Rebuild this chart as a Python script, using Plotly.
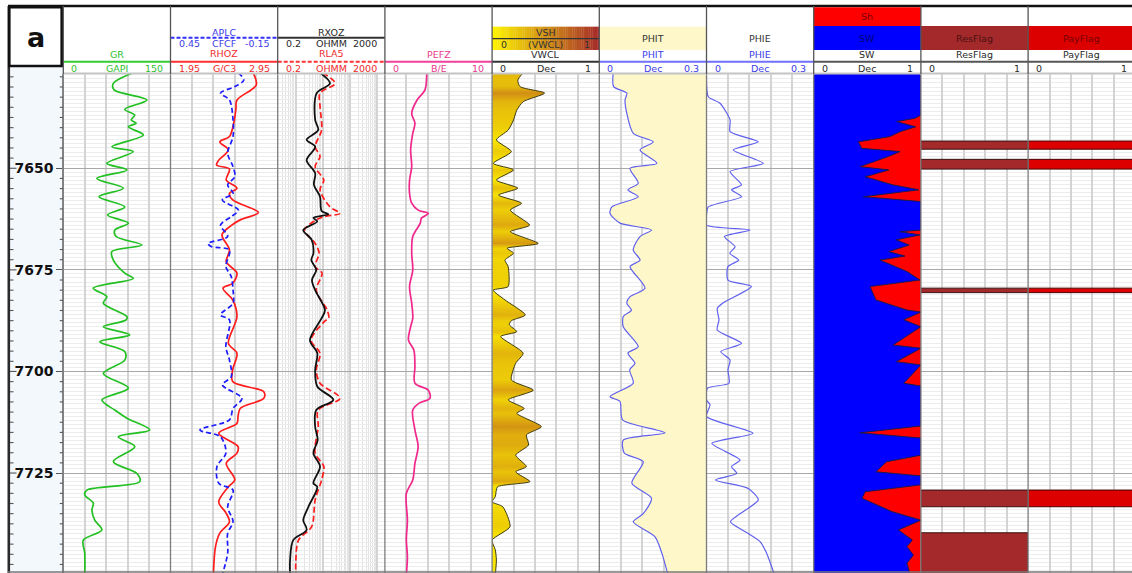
import math
import plotly.graph_objects as go

# ---------------- data ----------------
GR_DEPTH = [7626.5, 7629.1, 7630.7, 7633.2, 7635.5, 7636.9, 7638.1, 7638.9, 7639.8, 7641.8,
            7644.7, 7645.9, 7648.8, 7650.4, 7652.5, 7654.9, 7657.0, 7659.5, 7661.5, 7663.5,
            7665.2, 7666.8, 7668.9, 7670.5, 7672.6, 7675.8, 7677.1, 7679.5, 7681.6, 7683.2,
            7686.5, 7687.3, 7689.0, 7691.0, 7692.7, 7695.1, 7697.2, 7700.5, 7704.1, 7707.0,
            7709.5, 7711.5, 7714.4, 7716.1, 7718.5, 7722.2, 7725.1, 7727.1, 7729.2, 7730.4,
            7732.4, 7734.1, 7736.6, 7739.0, 7741.5, 7744.7, 7750.0]
GR = [98, 70, 71, 117, 86, 100, 95, 102, 91, 112,
      68, 98, 61, 89, 47, 84, 50, 86, 62, 91,
      72, 74, 110, 68, 70, 86, 98, 42, 61, 56,
      89, 88, 56, 93, 51, 86, 86, 56, 91, 54,
      72, 89, 121, 77, 100, 70, 103, 107, 33, 30,
      42, 40, 44, 54, 28, 30, 30]

RHOZ_DEPTH = [7626.5, 7629.5, 7633.2, 7635.5, 7638.9, 7642.2, 7643.5, 7645.5, 7648.0, 7649.2,
              7650.2, 7652.9, 7654.9, 7656.2, 7657.8, 7660.9, 7662.7, 7664.4, 7666.4, 7670.1,
              7673.0, 7675.8, 7678.3, 7679.5, 7682.4, 7686.5, 7693.1, 7695.5, 7699.6, 7702.5,
              7705.0, 7706.6, 7709.1, 7711.1, 7712.8, 7715.2, 7718.5, 7720.1, 7722.6, 7726.7,
              7728.4, 7732.1, 7734.9, 7737.0, 7739.8, 7743.1, 7750.0]
RHOZ = [2.72, 2.75, 2.57, 2.56, 2.54, 2.50, 2.41, 2.49, 2.40, 2.38,
        2.50, 2.47, 2.57, 2.50, 2.53, 2.77, 2.60, 2.50, 2.43, 2.50,
        2.47, 2.57, 2.53, 2.44, 2.53, 2.57, 2.49, 2.57, 2.53, 2.53,
        2.82, 2.82, 2.60, 2.58, 2.57, 2.40, 2.58, 2.57, 2.47, 2.55,
        2.49, 2.40, 2.47, 2.50, 2.41, 2.37, 2.35]

APLC_DEPTH = [7626.5, 7628.3, 7629.9, 7631.5, 7633.2, 7638.1, 7642.2, 7646.3, 7649.6, 7652.1,
              7654.1, 7656.2, 7657.8, 7660.3, 7661.9, 7664.0, 7666.8, 7668.5, 7669.3, 7670.1,
              7674.2, 7676.7, 7680.0, 7683.2, 7686.1, 7687.3, 7693.9, 7697.2, 7701.3, 7703.3,
              7706.6, 7709.1, 7711.9, 7714.4, 7716.1, 7720.1, 7723.4, 7727.5, 7729.2, 7733.3,
              7737.0, 7739.8, 7744.7, 7750.0]
APLC = [0.07, 0.04, 0.09, 0.17, 0.12, 0.10, 0.10, 0.13, 0.10, 0.09,
        0.13, 0.10, 0.16, 0.07, 0.11, 0.17, 0.13, 0.24, 0.22, 0.12,
        0.14, 0.11, 0.10, 0.10, 0.17, 0.12, 0.14, 0.12, 0.11, 0.16,
        0.05, 0.10, 0.12, 0.285, 0.17, 0.14, 0.19, 0.18, 0.10, 0.13,
        0.10, 0.13, 0.13, 0.16]

RXOZ_DEPTH = [7626.5, 7629.1, 7631.5, 7638.1, 7640.6, 7643.0, 7644.7, 7648.0, 7651.2, 7654.1,
              7657.0, 7660.5, 7661.3, 7662.2, 7663.1, 7665.2, 7667.6, 7670.9, 7672.6, 7675.0,
              7677.5, 7680.0, 7684.9, 7686.9, 7692.3, 7695.5, 7699.6, 7703.7, 7707.0, 7709.5,
              7713.6, 7716.9, 7720.1, 7723.4, 7727.5, 7728.4, 7733.3, 7736.6, 7739.0, 7741.5,
              7746.4, 7750.0]
RXOZ = [7.6, 17.8, 5.7, 5.0, 6.5, 2.4, 5.0, 2.4, 5.0, 4.5,
        7.6, 8.7, 15.5, 4.3, 6.0, 1.8, 3.7, 4.3, 3.6, 5.5,
        3.8, 5.0, 11.6, 8.7, 3.2, 6.0, 5.0, 6.0, 23.8, 5.5,
        5.0, 6.2, 4.3, 7.6, 4.3, 6.0, 2.8, 1.8, 2.4, 0.76,
        0.58, 0.58]

RLA5_DEPTH = [7626.5, 7629.1, 7631.5, 7634.8, 7640.6, 7644.7, 7647.1, 7649.6, 7652.9, 7655.3,
              7659.5, 7661.1, 7661.9, 7662.7, 7665.2, 7668.5, 7670.9, 7674.2, 7675.8, 7680.0,
              7684.9, 7686.9, 7687.5, 7692.3, 7695.5, 7699.6, 7702.9, 7706.6, 7709.5, 7713.6,
              7720.1, 7723.4, 7726.7, 7731.6, 7738.2, 7741.5, 7746.4, 7750.0]
RLA5 = [9.5, 27.6, 7.6, 7.6, 8.7, 5.0, 7.6, 5.0, 10.5, 7.6,
        17.8, 42.0, 10.5, 5.5, 2.0, 5.0, 7.0, 5.0, 9.0, 5.5,
        14.0, 16.0, 12.0, 3.5, 7.6, 5.5, 7.6, 42.0, 6.5, 6.5,
        5.0, 10.5, 8.7, 5.0, 3.7, 1.2, 0.95, 0.95]

PEFZ_DEPTH = [7626.5, 7630.7, 7633.2, 7636.5, 7638.9, 7641.4, 7645.5, 7649.6, 7652.9, 7656.2,
              7658.6, 7660.3, 7661.1, 7662.3, 7663.5, 7666.8, 7670.9, 7675.0, 7679.1, 7683.2,
              7686.9, 7689.0, 7692.3, 7694.7, 7698.8, 7702.9, 7704.6, 7706.6, 7707.8, 7709.5,
              7714.4, 7718.5, 7722.6, 7726.7, 7730.0, 7736.6, 7741.5, 7745.6, 7750.0]
PEFZ = [3.9, 3.74, 3.0, 2.5, 2.8, 2.6, 2.4, 2.5, 2.3, 2.3,
        2.5, 3.1, 4.05, 3.4, 3.3, 2.6, 2.5, 2.6, 2.3, 2.5,
        2.6, 2.4, 2.2, 2.7, 2.8, 2.8, 4.05, 4.2, 3.2, 2.6,
        2.8, 3.1, 2.8, 2.6, 2.0, 2.1, 2.0, 2.1, 2.0]

VWCL_DEPTH = [7626.5, 7628.3, 7629.9, 7631.5, 7633.6, 7635.7, 7638.1, 7640.6, 7643.0, 7645.9,
              7648.8, 7650.4, 7652.9, 7654.9, 7656.6, 7658.6, 7660.3, 7664.0, 7665.6, 7668.5,
              7669.7, 7670.9, 7672.6, 7674.2, 7679.1, 7680.0, 7682.4, 7686.1, 7687.5, 7688.5,
              7690.2, 7691.4, 7695.5, 7698.0, 7702.1, 7704.6, 7707.0, 7709.1, 7710.3, 7713.6,
              7715.6, 7718.1, 7720.6, 7723.4, 7724.7, 7727.1, 7728.4, 7730.8, 7732.1, 7733.3,
              7738.2, 7741.5, 7743.9, 7746.4, 7750.0]
VWCL = [0.29, 0.24, 0.26, 0.49, 0.29, 0.23, 0.20, 0.15, 0.04, 0.18,
        0.01, 0.20, 0.04, 0.24, 0.06, 0.275, 0.17, 0.35, 0.17, 0.43,
        0.14, 0.20, 0.12, 0.15, 0.15, 0.01, 0.12, 0.31, 0.18, 0.16,
        0.23, 0.08, 0.29, 0.22, 0.18, 0.385, 0.15, 0.30, 0.23, 0.46,
        0.32, 0.34, 0.22, 0.32, 0.22, 0.353, 0.05, 0.03, 0.0, 0.10,
        0.167, 0.0, 0.03, 0.04, 0.03]

PHIT_DEPTH = [7626.5, 7629.9, 7631.5, 7633.2, 7636.5, 7641.4, 7643.5, 7645.5, 7648.8, 7650.0,
              7653.7, 7655.3, 7657.0, 7659.5, 7661.1, 7663.5, 7665.2, 7666.8, 7670.1, 7672.6,
              7674.2, 7679.5, 7681.6, 7683.2, 7684.9, 7686.5, 7689.0, 7693.9, 7695.5, 7698.0,
              7699.6, 7702.9, 7706.2, 7707.4, 7711.9, 7715.1, 7716.9, 7720.1, 7722.2, 7727.5,
              7731.2, 7735.0, 7737.0, 7740.7, 7744.7, 7750.0]
PHIT = [0.039, 0.040, 0.077, 0.072, 0.077, 0.095, 0.151, 0.114, 0.161, 0.086,
        0.109, 0.080, 0.109, 0.035, 0.030, 0.058, 0.146, 0.114, 0.095, 0.114,
        0.086, 0.128, 0.086, 0.077, 0.090, 0.067, 0.067, 0.109, 0.080, 0.100,
        0.085, 0.095, 0.030, 0.058, 0.065, 0.184, 0.067, 0.070, 0.123, 0.091,
        0.146, 0.123, 0.095, 0.156, 0.175, 0.192]

PHIE_DEPTH = [7626.5, 7632.4, 7634.0, 7638.1, 7641.0, 7643.5, 7645.5, 7648.8, 7650.8, 7654.1,
              7655.3, 7657.0, 7659.5, 7661.5, 7664.0, 7665.2, 7666.8, 7669.3, 7670.9, 7672.6,
              7674.2, 7677.5, 7679.1, 7683.2, 7684.5, 7687.3, 7689.8, 7693.1, 7695.1, 7697.2,
              7699.6, 7702.9, 7704.1, 7707.0, 7708.2, 7711.1, 7715.2, 7717.7, 7721.8, 7723.4,
              7725.1, 7726.7, 7728.8, 7731.6, 7737.0, 7739.0, 7741.9, 7744.7, 7750.0]
PHIE = [0.0, 0.005, 0.038, 0.066, 0.066, 0.145, 0.075, 0.159, 0.066, 0.098,
        0.070, 0.098, 0.005, 0.0, 0.0, 0.122, 0.050, 0.080, 0.065, 0.090,
        0.060, 0.060, 0.126, 0.045, 0.030, 0.035, 0.030, 0.098, 0.040, 0.066,
        0.060, 0.063, 0.003, 0.0, 0.010, 0.0, 0.130, 0.015, 0.094, 0.070,
        0.085, 0.025, 0.117, 0.145, 0.067, 0.100, 0.150, 0.168, 0.190]

SW_DEPTH = [7626.5, 7636.9, 7637.7, 7638.5, 7639.8, 7641.0, 7642.2, 7643.5, 7645.1, 7645.9,
            7647.1, 7649.6, 7650.4, 7652.1, 7654.1, 7655.3, 7657.0, 7658.2, 7665.2, 7665.6,
            7666.4, 7667.6, 7668.9, 7670.5, 7671.6, 7672.6, 7675.4, 7677.5, 7679.1, 7682.4,
            7684.9, 7685.4, 7686.9, 7687.3, 7689.0, 7693.5, 7694.3, 7697.6, 7698.4, 7702.9,
            7703.6, 7713.4, 7715.1, 7716.4, 7720.6, 7722.2, 7724.7, 7725.7, 7727.9, 7729.6,
            7731.2, 7734.5, 7736.6, 7739.0, 7741.5, 7743.1, 7745.2, 7747.2, 7750.0]
SW = [1.0, 1.0, 0.945, 0.774, 0.95, 0.805, 0.71, 0.416, 0.448, 0.805,
      0.696, 0.432, 0.70, 0.48, 0.74, 0.98, 0.463, 1.0, 1.0, 0.805,
      0.99, 0.77, 0.89, 0.70, 0.85, 0.618, 0.87, 0.99, 0.525, 0.58,
      0.87, 1.0, 0.87, 0.84, 1.0, 0.74, 1.0, 0.77, 1.0, 0.84,
      1.0, 1.0, 0.43, 1.0, 1.0, 0.68, 0.58, 1.0, 1.0, 0.48,
      0.45, 0.73, 1.0, 0.79, 0.92, 0.87, 0.93, 0.87, 0.90]

RES_TOP = [7643.3, 7647.8, 7679.5, 7729.2, 7739.7]
RES_BASE = [7645.3, 7650.2, 7680.6, 7733.3, 7750.0]
PAY_TOP = [7643.3, 7647.8, 7679.5, 7729.2]
PAY_BASE = [7645.3, 7650.2, 7680.6, 7733.3]

DEPTH_LABELS = [7650, 7675, 7700, 7725]

for a, b in [(GR_DEPTH, GR), (RHOZ_DEPTH, RHOZ), (APLC_DEPTH, APLC), (RXOZ_DEPTH, RXOZ),
             (RLA5_DEPTH, RLA5), (PEFZ_DEPTH, PEFZ), (VWCL_DEPTH, VWCL), (PHIT_DEPTH, PHIT),
             (PHIE_DEPTH, PHIE), (SW_DEPTH, SW)]:
    assert len(a) == len(b), (len(a), len(b))

# ---------------- geometry / style ----------------
W, H = 1132, 573
HDR_TOP = 6.0
DATA_TOP = 74.0
TRACK_X0 = 63.3
TRACK_W = 107.2
NT = 10
D_TOP, D_BOT = 7626.8, 7749.6
FONT = "DejaVu Sans"

GREEN = "#2fbf2f"
RED = "#ee2a2a"
BLUE = "#3c3ce8"
PINK = "#ea3a8e"
DARK = "#2a2a2a"
GRID = "#d4d4d4"

edges = [TRACK_X0 + i * TRACK_W for i in range(NT + 1)]


def fx(p):
    return p / W


def fy(p):
    return 1 - p / H


shapes = []
annotations = []


def hline(x0, x1, y, color, width=1.0, dash=None):
    shapes.append(dict(type="line", xref="paper", yref="paper", x0=fx(x0), x1=fx(x1),
                       y0=fy(y), y1=fy(y), layer="above",
                       line=dict(color=color, width=width, dash=dash or "solid")))


def vline(x, y0, y1, color, width=1.0):
    shapes.append(dict(type="line", xref="paper", yref="paper", x0=fx(x), x1=fx(x),
                       y0=fy(y0), y1=fy(y1), layer="above",
                       line=dict(color=color, width=width)))


def rect(x0, y0, x1, y1, fill, lc=None, lw=0, layer="above"):
    shapes.append(dict(type="rect", xref="paper", yref="paper", x0=fx(x0), x1=fx(x1),
                       y0=fy(y1), y1=fy(y0), layer=layer, fillcolor=fill,
                       line=dict(color=lc or fill, width=lw)))


def text(x, y, s, color, size=9.5, anchor="center", bold=False):
    annotations.append(dict(x=fx(x), y=fy(y), xref="paper", yref="paper", text=s,
                            showarrow=False, xanchor=anchor, yanchor="middle",
                            font=dict(family=FONT, size=size, color=color,
                                      weight="bold" if bold else "normal")))


def lerp_color(v, c0=(252, 238, 0), c1=(165, 42, 42)):
    v = max(0.0, min(1.0, v))
    r, g, b = (round(c0[k] + (c1[k] - c0[k]) * v) for k in range(3))
    return f"rgb({r},{g},{b})"


# ---------------- axes ----------------
layout_axes = {}


def make_xaxis(key, i, lo, hi, log=False, grid=True, overlay=None):
    x0 = edges[i]
    x1 = min(edges[i + 1], W)
    frac = (x1 - x0) / TRACK_W
    if log:
        a, b = math.log10(lo), math.log10(hi)
        ax = dict(type="log", range=[a, a + (b - a) * frac], dtick=1,
                  minor=dict(dtick="D1", showgrid=True, gridcolor="#e3e3e3", gridwidth=1))
    else:
        ax = dict(range=[lo, lo + (hi - lo) * frac], tick0=lo, dtick=(hi - lo) / 5)
    ax.update(domain=[fx(x0), fx(x1)], anchor="y", showticklabels=False, ticks="",
              zeroline=False, showline=False, showgrid=grid, gridcolor=GRID,
              gridwidth=1.6, fixedrange=True)
    if overlay:
        ax["overlaying"] = overlay
    layout_axes["xaxis" + key[1:]] = ax


make_xaxis("x", 0, 0, 150)
make_xaxis("x2", 1, 1.95, 2.95)
make_xaxis("x3", 1, 0.45, -0.15, grid=False, overlay="x2")
make_xaxis("x4", 2, 0.2, 2000, log=True)
make_xaxis("x5", 3, 0, 10)
make_xaxis("x6", 4, 0, 1)
make_xaxis("x7", 5, 0, 0.3)
make_xaxis("x8", 6, 0, 0.3)
make_xaxis("x9", 7, 0, 1)
make_xaxis("x10", 8, 0, 1)
make_xaxis("x11", 9, 0, 1)

layout_axes["yaxis"] = dict(
    domain=[0, fy(DATA_TOP)], range=[D_BOT, D_TOP], anchor="x",
    tickmode="array", tickvals=DEPTH_LABELS, ticktext=[str(v) for v in DEPTH_LABELS],
    ticks="outside", ticklen=6, tickwidth=1.2, tickcolor="#555",
    tickfont=dict(family=FONT, size=14, color="#111", weight="bold"),
    showgrid=True, gridcolor="#a8a8a8", gridwidth=1.2,
    minor=dict(dtick=1, tick0=7600, showgrid=True, gridcolor="#ececec", gridwidth=1),
    zeroline=False, showline=True, linecolor="#888", fixedrange=True)

# ---------------- traces ----------------
traces = []
SMOOTH = dict(shape="spline", smoothing=0.9)

traces.append(go.Scatter(x=GR, y=GR_DEPTH, xaxis="x", yaxis="y", mode="lines",
                         line=dict(color="#22c022", width=1.7, **SMOOTH)))
traces.append(go.Scatter(x=RHOZ, y=RHOZ_DEPTH, xaxis="x2", yaxis="y", mode="lines",
                         line=dict(color="#ff1c1c", width=1.7, **SMOOTH)))
traces.append(go.Scatter(x=APLC, y=APLC_DEPTH, xaxis="x3", yaxis="y", mode="lines",
                         line=dict(color="#1c1cff", width=1.7, dash="5px,3px", **SMOOTH)))
traces.append(go.Scatter(x=RLA5, y=RLA5_DEPTH, xaxis="x4", yaxis="y", mode="lines",
                         line=dict(color="#ff1c1c", width=1.7, dash="6px,3px", **SMOOTH)))
traces.append(go.Scatter(x=RXOZ, y=RXOZ_DEPTH, xaxis="x4", yaxis="y", mode="lines",
                         line=dict(color="#111111", width=1.8, **SMOOTH)))
traces.append(go.Scatter(x=PEFZ, y=PEFZ_DEPTH, xaxis="x5", yaxis="y", mode="lines",
                         line=dict(color="#f0288c", width=1.7, **SMOOTH)))

# VSH / VWCL shading: colour of each depth band follows the VWCL value
span = VWCL_DEPTH[-1] - VWCL_DEPTH[0]
vsh_scale = [[(d - VWCL_DEPTH[0]) / span, lerp_color(v)] for d, v in zip(VWCL_DEPTH, VWCL)]
vsh_scale[0][0] = 0.0
vsh_scale[-1][0] = 1.0
traces.append(go.Scatter(x=VWCL, y=VWCL_DEPTH, xaxis="x6", yaxis="y", mode="lines",
                         fill="tozerox",
                         fillgradient=dict(type="vertical", colorscale=vsh_scale,
                                           start=VWCL_DEPTH[0], stop=VWCL_DEPTH[-1]),
                         line=dict(color="#3d3a12", width=1, shape="spline", smoothing=0.6)))

# PHIT with light yellow fill to the right edge
PHIT_MAX = 0.3
traces.append(go.Scatter(x=[PHIT_MAX] * len(PHIT_DEPTH), y=PHIT_DEPTH, xaxis="x7", yaxis="y",
                         mode="lines", line=dict(width=0, color="rgba(0,0,0,0)")))
traces.append(go.Scatter(x=PHIT, y=PHIT_DEPTH, xaxis="x7", yaxis="y", mode="lines",
                         fill="tonextx", fillcolor="#fdf7c9",
                         line=dict(color="#6060ee", width=1.2, shape="spline", smoothing=0.7)))
traces.append(go.Scatter(x=PHIE, y=PHIE_DEPTH, xaxis="x8", yaxis="y", mode="lines",
                         line=dict(color="#6060ee", width=1.2, shape="spline", smoothing=0.6)))

# SW (blue) and Sh = 1 - SW (red)
SW_MAX = 1.0
traces.append(go.Scatter(x=[SW_MAX] * len(SW_DEPTH), y=SW_DEPTH, xaxis="x9", yaxis="y",
                         mode="lines", fill="tozerox", fillcolor="#ff0000",
                         line=dict(width=0, color="rgba(0,0,0,0)")))
traces.append(go.Scatter(x=SW, y=SW_DEPTH, xaxis="x9", yaxis="y", mode="lines",
                         fill="tozerox", fillcolor="#0000ff",
                         line=dict(color="#1a1a50", width=1)))

# flags
traces.append(go.Bar(orientation="h", x=[1] * len(RES_TOP),
                     y=[(t + b) / 2 for t, b in zip(RES_TOP, RES_BASE)],
                     width=[b - t for t, b in zip(RES_TOP, RES_BASE)], base=0,
                     xaxis="x10", yaxis="y",
                     marker=dict(color="#a4292b", line=dict(color="#3a1010", width=1))))
traces.append(go.Bar(orientation="h", x=[1] * len(PAY_TOP),
                     y=[(t + b) / 2 for t, b in zip(PAY_TOP, PAY_BASE)],
                     width=[b - t for t, b in zip(PAY_TOP, PAY_BASE)], base=0,
                     xaxis="x11", yaxis="y",
                     marker=dict(color="#dd0000", line=dict(color="#4a0000", width=1))))

# ---------------- depth track decorations ----------------
rect(10, 66, TRACK_X0, H, "#f3f8fd", layer="below")
vline(8.8, HDR_TOP, H, "#2b2b2b", 2.6)
k0 = math.ceil(D_TOP / 2.5)
k1 = math.floor(D_BOT / 2.5)
for k in range(k0, k1 + 1):
    d = k * 2.5
    major = (d % 25 == 0)
    shapes.append(dict(type="line", xref="paper", yref="y", x0=fx(10), x1=fx(16.5 if major else 13.5),
                       y0=d, y1=d, layer="above", line=dict(color="#555", width=1.1)))
    if not major:
        shapes.append(dict(type="line", xref="paper", yref="y", x0=fx(TRACK_X0 - 3.5),
                           x1=fx(TRACK_X0), y0=d, y1=d, layer="above",
                           line=dict(color="#555", width=1.1)))

# track borders in the data area
for e in edges:
    if e <= W:
        vline(e, DATA_TOP, H, "#7c7c7c", 1.3)
hline(8, W, H - 1, "#777", 1.5)

# ---------------- header ----------------
rect(9.3, 7.3, 61.7, 66, "white", "#111", 2.6)
text(35.5, 37, "a", "#111", size=27, bold=True)
hline(8, W, HDR_TOP, "#111", 2.6)
hline(TRACK_X0, W, 73.5, "#c4c4c4", 2)


def tx(i):
    return edges[i], edges[i + 1], (edges[i] + edges[i + 1]) / 2


# boxes (row B) and Sh box
x0, x1, xc = tx(4)
nseg = 60
for s in range(nseg):
    a = x0 + (x1 - x0) * s / nseg
    b = x0 + (x1 - x0) * (s + 1) / nseg + 0.3
    rect(a, 26.7, min(b, x1), 50, lerp_color((s + 0.5) / nseg, c0=(255, 245, 0)))
hline(x0, x1, 38.7, "#333", 1.2)
text(xc, 32.3, "VSH", "#333")
text(x0 + 7, 44.3, "0", "#333", anchor="left")
text(xc, 44.3, "(VWCL)", "#333")
text(x1 - 7, 44.3, "1", "#333", anchor="right")

x0, x1, xc = tx(5)
rect(x0, 26.7, x1, 50, "#fdf7c9")
text(xc, 38, "PHIT", "#333")
x0, x1, xc = tx(6)
text(xc, 38, "PHIE", "#333")

x0, x1, xc = tx(7)
rect(x0, 7.3, x1, 26, "#ff0000")
text(xc, 16.5, "Sh", "#7a0000")
rect(x0, 26, x1, 50, "#0000ff")
text(xc, 38, "SW", "#000070")

x0, x1, xc = tx(8)
rect(x0, 26, x1, 50, "#a4292b")
text(xc, 38, "ResFlag", "#4a1010")
x0, x1, xc = tx(9)
rect(x0, 26, min(x1, W), 50, "#dd0000")
text(xc, 38, "PayFlag", "#780000")

# two-curve tracks (upper curve)
x0, x1, xc = tx(1)
text(xc, 32.3, "APLC", BLUE)
hline(x0, x1, 37.7, "#3030ff", 2, "4px,2px")
text(x0 + 6, 43.7, "0.45", BLUE, anchor="left")
text(xc, 43.7, "CFCF", BLUE)
text(x1 - 6, 43.7, "-0.15", BLUE, anchor="right")

x0, x1, xc = tx(2)
text(xc, 32.3, "RXOZ", DARK)
hline(x0, x1, 37.7, "#333", 2)
text(x0 + 6, 43.7, "0.2", DARK, anchor="left")
text(xc, 43.7, "OHMM", DARK)
text(x1 - 6, 43.7, "2000", DARK, anchor="right")

# curve names, header lines and scales
NAMES = [("GR", GREEN, 55), ("RHOZ", RED, 53), ("RLA5", RED, 53), ("PEFZ", PINK, 55),
         ("VWCL", DARK, 55), ("PHIT", BLUE, 55), ("PHIE", BLUE, 55), ("SW", DARK, 55),
         ("ResFlag", DARK, 55), ("PayFlag", DARK, 55)]
LINES = [("#33cc33", None), ("#ff3030", None), ("#ff3030", "4px,2px"), ("#f0409a", None),
         ("#333", None), ("#7070ff", None), ("#7070ff", None), ("#555", None),
         ("#555", None), ("#555", None)]
SCALES = [("0", "GAPI", "150", GREEN), ("1.95", "G/C3", "2.95", RED),
          ("0.2", "OHMM", "2000", RED), ("0", "B/E", "10", PINK),
          ("0", "Dec", "1", DARK), ("0", "Dec", "0.3", BLUE), ("0", "Dec", "0.3", BLUE),
          ("0", "Dec", "1", DARK), ("0", "", "1", DARK), ("0", "", "1", DARK)]
for i in range(NT):
    x0, x1, xc = tx(i)
    name, col, yy = NAMES[i]
    text(xc, yy, name, col)
    lc, dash = LINES[i]
    hline(x0, min(x1, W), 61.7, lc, 2, dash)
    lo, unit, hi, sc = SCALES[i]
    text(x0 + 6, 68.3, lo, sc, anchor="left")
    if unit:
        text(xc, 68.3, unit, sc)
    text(x1 - 6, 68.3, hi, sc, anchor="right")

for e in edges:
    if e <= W:
        vline(e, HDR_TOP, DATA_TOP, "#555", 1.3)

# ---------------- figure ----------------
fig = go.Figure(data=traces)
fig.update_layout(
    width=W, height=H, margin=dict(l=0, r=0, t=0, b=0),
    paper_bgcolor="white", plot_bgcolor="white", showlegend=False,
    barmode="overlay", shapes=shapes, annotations=annotations,
    font=dict(family=FONT), **layout_axes)
fig.write_html("out.html")
